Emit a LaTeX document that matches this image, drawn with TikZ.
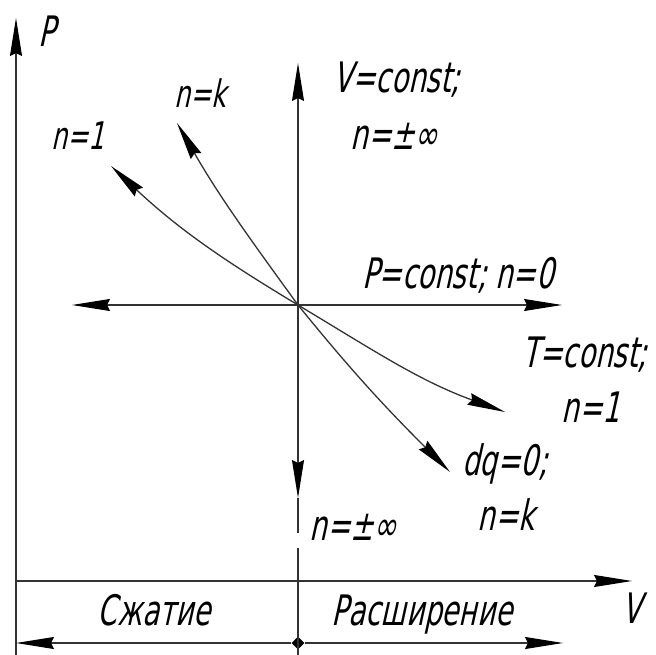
\documentclass[tikz,border=0pt]{standalone}
\usepackage{fontspec}
\setmainfont{DejaVu Sans}[FakeStretch=0.66, FakeSlant=0.22]
\usetikzlibrary{shapes.geometric, arrows.meta, positioning}

\begin{document}
\begin{tikzpicture}[
  x=1pt, y=1pt,
  ln/.style={line width=1.3pt, draw=black!80},
  arr/.style={ln, -{Stealth[length=38pt, width=12pt, inset=3pt, color=black]}},
  lbl/.style={inner sep=0pt, anchor=base, font=\fontsize{42}{48}\selectfont},
  lbls/.style={lbl, font=\fontsize{38}{44}\selectfont},
  dot/.style={diamond, fill=black, inner sep=0pt, minimum size=13pt}
]
\useasboundingbox (0,0) rectangle (656,-655);
% points of the diagram
\coordinate (O) at (298,-305);
\coordinate (pt) at (16,-18);
\coordinate (pb) at (16,-655);
\coordinate (vl) at (16,-581);
\coordinate (vr) at (632,-581);
\coordinate (yt) at (298,-63);
\coordinate (ydn) at (298,-498);
\coordinate (g1) at (298,-533);
\coordinate (g2) at (298,-548);
\coordinate (yb) at (298,-655);
\coordinate (xl) at (72,-305);
\coordinate (xr) at (562,-305);
\coordinate (bl) at (16,-643);
\coordinate (br) at (563,-643);
\coordinate (n1a) at (111,-166);
\coordinate (n1b) at (505,-412);
\coordinate (nka) at (177,-123);
\coordinate (nkb) at (450,-472);
\node[dot] (D) at (298,-643) {};
% axes
\draw[arr] (pb) -- (pt);
\draw[arr] (vl) -- (vr);
% processes through O
\draw[arr] (O) -- (yt);
\draw[arr] (O) -- (ydn);
\draw[ln] (ydn) -- (g1);
\draw[ln] (g2) -- (yb);
\draw[arr] (O) -- (xl);
\draw[arr] (O) -- (xr);
\draw[arr] (O) to[out=149, in=-43] (n1a);
\draw[arr] (O) to[out=-31, in=160] (n1b);
\draw[arr] (O) to[out=126, in=-60] (nka);
\draw[arr] (O) to[out=-51, in=135] (nkb);
\draw[arr] (D) -- (bl);
\draw[arr] (D) -- (br);
% labels
\node[lbl] (lp) at (47,-47) {P};
\node[lbl] (lv) at (632,-623) {V};
\node[lbls] (ln1) at (78,-150) {n=1};
\node[lbls] (lnk) at (200,-108) {n=k};
\node[lbl] (lvc) at (397,-93) {V=const;};
\node[lbl] (lvn) at (394,-150) {n=±∞};
\node[lbl] (lpc) at (458,-288) {P=const; n=0};
\node[lbl] (ltc) at (585,-367) {T=const;};
\node[lbl] (ltn) at (591,-422) {n=1};
\node[lbl] (ldq) at (505,-475) {dq=0;};
\node[lbl] (ldn) at (506,-530) {n=k};
\node[lbl] (lvn2) at (353,-540) {n=±∞};
\node[lbl] (lsz) at (154,-625) {Сжатие};
\node[lbl] (lrs) at (422,-625) {Расширение};
\end{tikzpicture}
\end{document}
